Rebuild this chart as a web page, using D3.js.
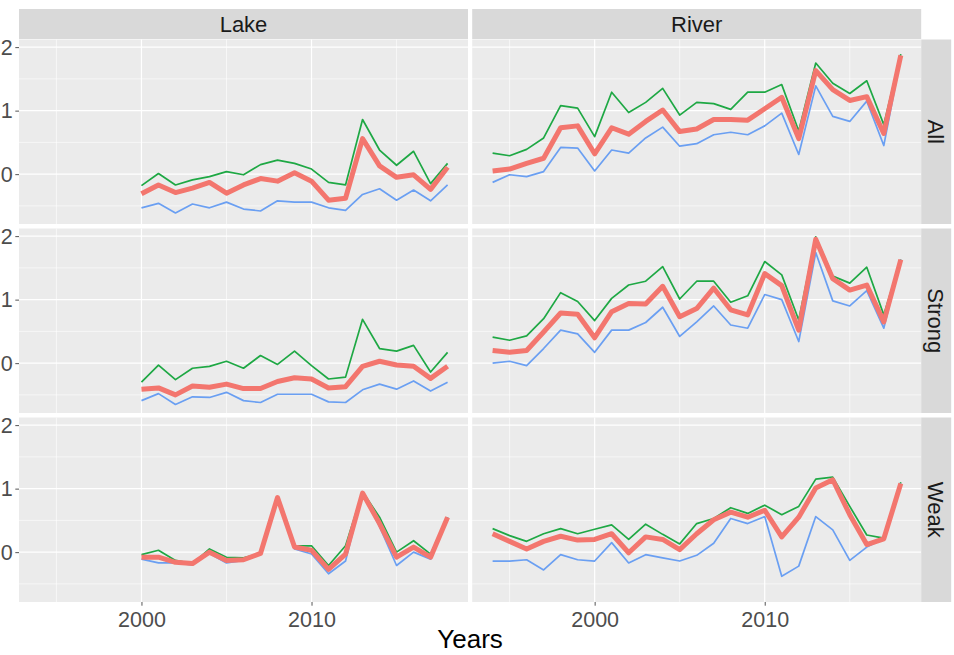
<!DOCTYPE html>
<html><head><meta charset="utf-8">
<script src="https://cdn.jsdelivr.net/npm/d3@7"></script>
<style>body{margin:0;background:#fff} text{font-family:"Liberation Sans",Arial,sans-serif}</style>
</head><body><svg id="chart" width="954" height="655"></svg>
<script>
const yearsLake = [2000,2001,2002,2003,2004,2005,2006,2007,2008,2009,2010,2011,2012,2013,2014,2015,2016,2017,2018];
const yearsRiver = [1994,1995,1996,1997,1998,1999,2000,2001,2002,2003,2004,2005,2006,2007,2008,2009,2010,2011,2012,2013,2014,2015,2016,2017,2018];
const sites = ["Lake","River"];
const groups = ["All","Strong","Weak"];
const xTicks = [2000, 2010];
const xMinor = [1995, 2005, 2015];
const yTicks = [0, 1, 2];
const yMinor = [-0.5, 0.5, 1.5];
const xTitle = "Years";

// Lake
const lakeAllUpper   = [-0.18,0.01,-0.17,-0.09,-0.04,0.04,-0.01,0.15,0.22,0.17,0.08,-0.13,-0.17,0.86,0.38,0.14,0.36,-0.15,0.17];
const lakeAllMean    = [-0.31,-0.17,-0.29,-0.22,-0.13,-0.30,-0.17,-0.07,-0.11,0.02,-0.11,-0.41,-0.38,0.56,0.13,-0.05,-0.01,-0.24,0.11];
const lakeAllLower   = [-0.53,-0.46,-0.61,-0.47,-0.53,-0.44,-0.55,-0.58,-0.42,-0.44,-0.44,-0.53,-0.57,-0.32,-0.23,-0.41,-0.25,-0.42,-0.17];
const lakeStrongUpper= [-0.30,-0.03,-0.26,-0.08,-0.05,0.03,-0.08,0.12,-0.02,0.19,-0.04,-0.25,-0.22,0.69,0.23,0.19,0.28,-0.14,0.17];
const lakeStrongMean = [-0.41,-0.39,-0.50,-0.36,-0.38,-0.33,-0.40,-0.40,-0.29,-0.23,-0.25,-0.39,-0.37,-0.05,0.03,-0.03,-0.05,-0.24,-0.05];
const lakeStrongLower= [-0.59,-0.48,-0.65,-0.53,-0.54,-0.46,-0.59,-0.62,-0.49,-0.49,-0.49,-0.61,-0.62,-0.42,-0.33,-0.41,-0.28,-0.44,-0.30];
const lakeWeakUpper  = [-0.04,0.03,-0.13,-0.18,0.05,-0.08,-0.09,-0.02,0.86,0.10,0.10,-0.21,0.10,0.95,0.55,0.00,0.18,-0.03,0.55];
const lakeWeakMean   = [-0.08,-0.08,-0.16,-0.18,0.00,-0.13,-0.12,-0.02,0.86,0.08,0.03,-0.27,-0.03,0.93,0.45,-0.08,0.08,-0.08,0.55];
const lakeWeakLower  = [-0.11,-0.17,-0.17,-0.20,-0.02,-0.17,-0.13,-0.02,0.86,0.05,-0.03,-0.34,-0.14,0.93,0.40,-0.21,0.00,-0.11,0.55];
// River
const riverAllUpper   = [0.33,0.29,0.39,0.57,1.08,1.04,0.59,1.29,0.97,1.13,1.35,0.93,1.13,1.11,1.02,1.29,1.29,1.41,0.68,1.75,1.43,1.27,1.47,0.78,1.89];
const riverAllMean    = [0.05,0.08,0.17,0.25,0.73,0.76,0.32,0.73,0.63,0.83,1.01,0.67,0.71,0.86,0.86,0.85,1.03,1.21,0.56,1.63,1.33,1.16,1.22,0.64,1.87];
const riverAllLower   = [-0.13,-0.01,-0.04,0.04,0.42,0.41,0.05,0.38,0.33,0.57,0.74,0.44,0.48,0.62,0.66,0.62,0.76,0.96,0.31,1.39,0.91,0.83,1.15,0.45,1.84];
const riverStrongUpper= [0.41,0.36,0.43,0.70,1.11,0.97,0.67,1.02,1.23,1.29,1.52,1.01,1.29,1.29,0.96,1.06,1.60,1.39,0.68,1.99,1.37,1.26,1.51,0.76,1.63];
const riverStrongMean = [0.20,0.17,0.20,0.49,0.79,0.77,0.40,0.81,0.94,0.93,1.21,0.73,0.86,1.18,0.84,0.76,1.41,1.22,0.52,1.95,1.33,1.15,1.23,0.65,1.63];
const riverStrongLower= [0.00,0.03,-0.04,0.23,0.52,0.46,0.17,0.52,0.52,0.64,0.88,0.42,0.65,0.90,0.60,0.55,1.08,1.00,0.34,1.74,0.98,0.90,1.14,0.55,1.63];
const riverWeakUpper  = [0.37,0.26,0.17,0.29,0.37,0.29,0.36,0.43,0.20,0.44,0.28,0.13,0.45,0.53,0.70,0.61,0.74,0.59,0.72,1.15,1.18,0.72,0.27,0.22,1.10];
const riverWeakMean   = [0.29,0.17,0.05,0.17,0.25,0.19,0.20,0.29,-0.01,0.24,0.20,0.04,0.29,0.51,0.63,0.55,0.66,0.24,0.55,1.01,1.14,0.59,0.12,0.21,1.08];
const riverWeakLower  = [-0.14,-0.14,-0.12,-0.28,-0.04,-0.12,-0.14,0.15,-0.17,-0.04,-0.09,-0.14,-0.05,0.14,0.53,0.45,0.56,-0.38,-0.22,0.56,0.35,-0.13,0.08,0.21,1.08];

const years = {Lake: yearsLake, River: yearsRiver};
const table = {
  Lake: {All:{upper:lakeAllUpper,mean:lakeAllMean,lower:lakeAllLower},
         Strong:{upper:lakeStrongUpper,mean:lakeStrongMean,lower:lakeStrongLower},
         Weak:{upper:lakeWeakUpper,mean:lakeWeakMean,lower:lakeWeakLower}},
  River:{All:{upper:riverAllUpper,mean:riverAllMean,lower:riverAllLower},
         Strong:{upper:riverStrongUpper,mean:riverStrongMean,lower:riverStrongLower},
         Weak:{upper:riverWeakUpper,mean:riverWeakMean,lower:riverWeakLower}}
};
const seriesOrder = ["upper","lower","mean"];
const colors = {upper:"#1ea844", lower:"#6a9ff2", mean:"#f3766e"};
const widths = {upper:1.7, lower:1.7, mean:5};

const svg = d3.select("#chart");
svg.append("rect").attr("width",954).attr("height",655).attr("fill","#fff");

const left = 19, panelW = 449, colGap = 4.2;
const top0 = 39.5, panelH = 184.5, rowGap = 4.5;
const stripTop = 9, stripH = 30, stripW = 30;
const FONT = '"Liberation Sans",Arial,sans-serif';

const x = d3.scaleLinear().domain([1992.8, 2019.2]).range([0, panelW]);
const y = d3.scaleLinear().domain([-0.785, 2.12]).range([panelH, 0]);
const line = d3.line().x(d => x(d[0])).y(d => y(d[1]));

sites.forEach((site, ci) => {
  const px = left + ci * (panelW + colGap);
  svg.append("rect").attr("x", px).attr("y", stripTop).attr("width", panelW).attr("height", stripH).attr("fill", "#d9d9d9");
  svg.append("text").attr("x", px + panelW/2).attr("y", stripTop + stripH/2).attr("dy","0.36em")
     .attr("text-anchor","middle").attr("font-size",22).attr("fill","#1a1a1a").text(site);

  groups.forEach((grp, ri) => {
    const py = top0 + ri * (panelH + rowGap);
    const g = svg.append("g").attr("transform", `translate(${px},${py})`);
    g.append("rect").attr("width", panelW).attr("height", panelH).attr("fill", "#ebebeb");
    g.selectAll(".xmin").data(xMinor).join("line").attr("x1", d=>x(d)).attr("x2", d=>x(d))
      .attr("y1",0).attr("y2",panelH).attr("stroke","#fff").attr("stroke-width",0.6);
    g.selectAll(".ymin").data(yMinor).join("line").attr("y1", d=>y(d)).attr("y2", d=>y(d))
      .attr("x1",0).attr("x2",panelW).attr("stroke","#fff").attr("stroke-width",0.6);
    g.selectAll(".xmaj").data(xTicks).join("line").attr("x1", d=>x(d)).attr("x2", d=>x(d))
      .attr("y1",0).attr("y2",panelH).attr("stroke","#fff").attr("stroke-width",1.2);
    g.selectAll(".ymaj").data(yTicks).join("line").attr("y1", d=>y(d)).attr("y2", d=>y(d))
      .attr("x1",0).attr("x2",panelW).attr("stroke","#fff").attr("stroke-width",1.2);

    seriesOrder.forEach(s => {
      const pts = years[site].map((yr, i) => [yr, table[site][grp][s][i]]);
      g.append("path").attr("d", line(pts)).attr("fill","none")
        .attr("stroke", colors[s]).attr("stroke-width", widths[s])
        .attr("stroke-linejoin","round").attr("stroke-linecap","butt");
    });

    if (ci === 0) {
      const ax = g.append("g").call(d3.axisLeft(y).tickValues(yTicks).tickFormat(d3.format("d")).tickSize(3.7).tickPadding(2.5));
      ax.select(".domain").remove();
      ax.selectAll("line").attr("stroke","#555");
      ax.selectAll("text").attr("font-size",21.5).attr("fill","#4d4d4d").attr("font-family",FONT);
    }
    if (ri === groups.length - 1) {
      const ax = g.append("g").attr("transform",`translate(0,${panelH})`)
        .call(d3.axisBottom(x).tickValues(xTicks).tickFormat(d3.format("d")).tickSize(3.7).tickPadding(6));
      ax.select(".domain").remove();
      ax.selectAll("line").attr("stroke","#555");
      ax.selectAll("text").attr("font-size",21.5).attr("fill","#4d4d4d").attr("font-family",FONT);
    }
    if (ci === sites.length - 1) {
      const sx = px + panelW;
      svg.append("rect").attr("x", sx).attr("y", py).attr("width", stripW).attr("height", panelH).attr("fill","#d9d9d9");
      svg.append("text").attr("transform", `translate(${sx + stripW/2},${py + panelH/2}) rotate(90)`)
        .attr("dy","0.36em").attr("text-anchor","middle").attr("font-size",22).attr("fill","#1a1a1a").text(grp);
    }
  });
});

const plotRight = left + 2*panelW + colGap;
svg.append("text").attr("x", (left + plotRight)/2).attr("y", 648)
  .attr("text-anchor","middle").attr("font-size",26).attr("fill","#000").text(xTitle);
</script>
</body></html>
